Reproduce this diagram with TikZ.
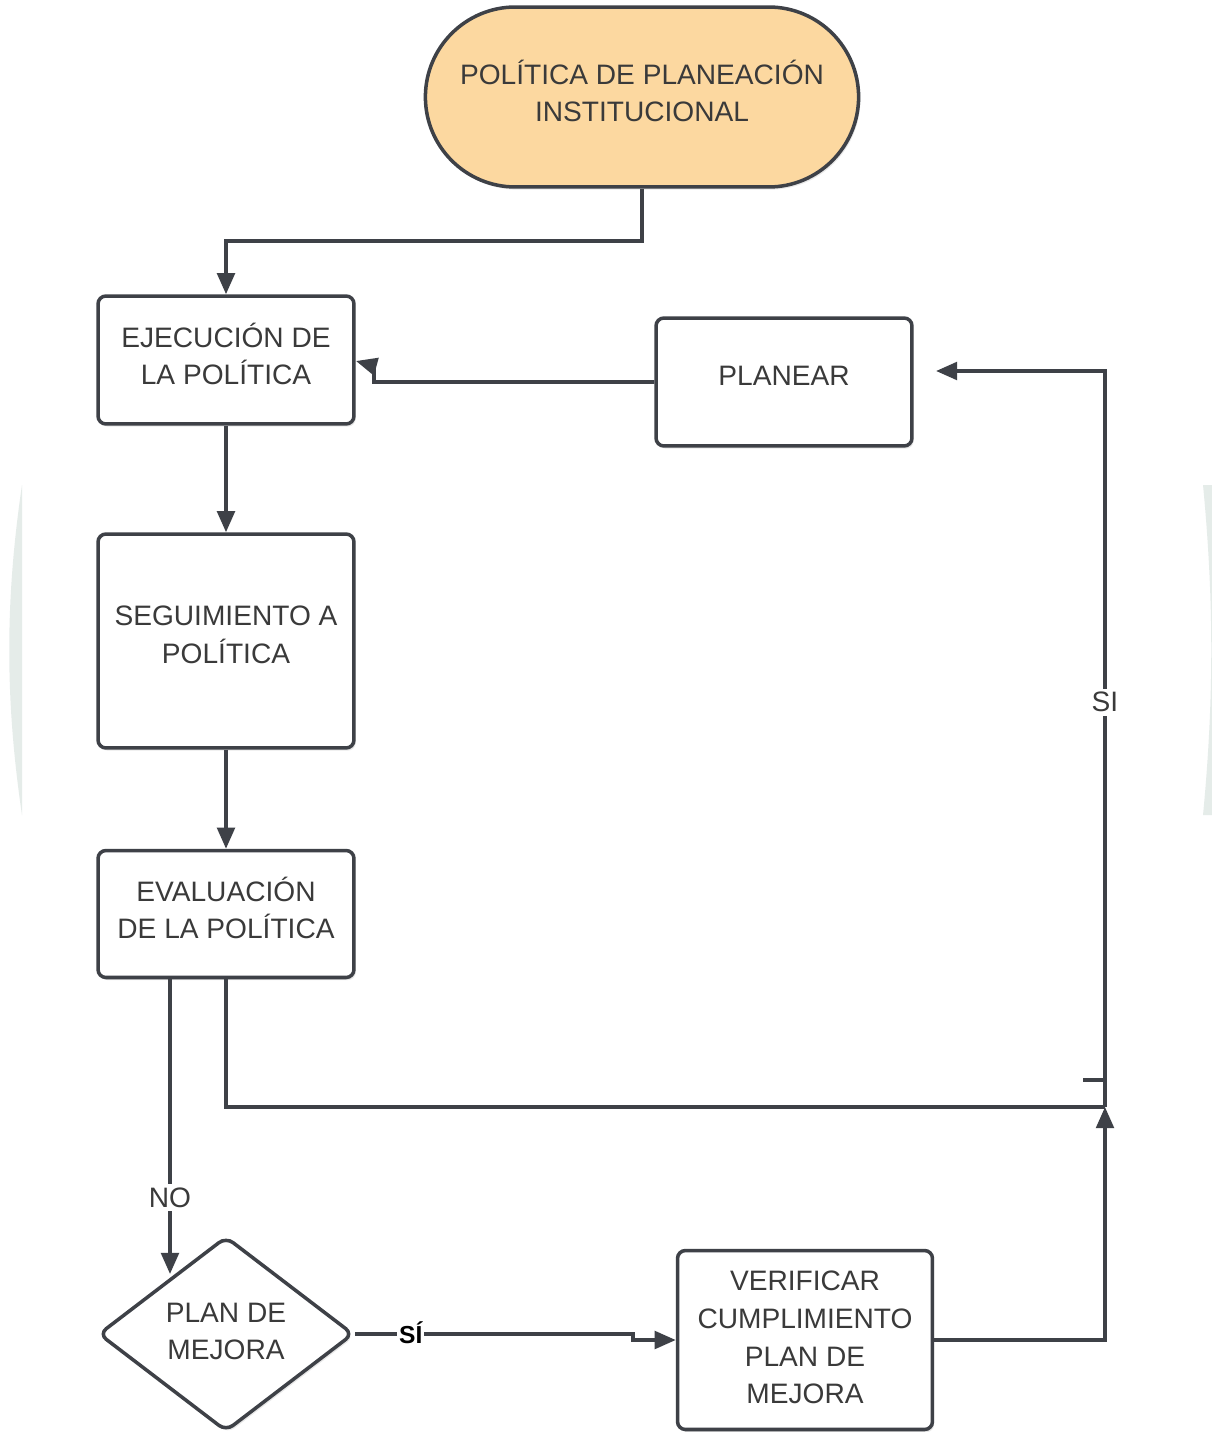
\documentclass[tikz,border=0pt]{standalone}
\usepackage{fontspec}
\setmainfont{Liberation Sans}
\usetikzlibrary{shapes.geometric,shapes.misc,arrows.meta,shadows}
\definecolor{lineC}{RGB}{62,65,71}
\definecolor{textC}{RGB}{58,58,58}
\definecolor{termC}{RGB}{252,216,160}
\definecolor{artC}{RGB}{205,218,212}
\begin{document}
\begin{tikzpicture}[x=0.02cm,y=-0.02cm,
  every node/.style={font=\fontsize{16}{21.5}\selectfont, text=textC},
  boxstyle/.style={draw=lineC, line width=2pt, rectangle, rounded corners=4.5pt, fill=white,
     align=center, inner sep=2pt, text depth=7pt,
     drop shadow={shadow xshift=1pt, shadow yshift=-1.5pt, opacity=0.18}},
  termstyle/.style={draw=lineC, line width=2pt, rounded rectangle, fill=termC, align=center,
     minimum width=8.9cm, minimum height=3.6cm, text depth=7pt,
     drop shadow={shadow xshift=1pt, shadow yshift=-1.5pt, opacity=0.18}},
  decstyle/.style={draw=lineC, line width=2pt, diamond, rounded corners=5pt, fill=white, align=center,
     minimum width=5.1cm, minimum height=3.9cm, inner sep=0pt, text depth=3pt,
     drop shadow={shadow xshift=1pt, shadow yshift=-1.5pt, opacity=0.18}},
  conn/.style={draw=lineC, line width=2pt},
  arr/.style={conn, -{Triangle[length=12pt,width=10pt]}},
  lbl/.style={fill=white, inner sep=2pt},
]
\useasboundingbox (0,0) rectangle (1212,1432);
\fill[white] (0,0) rectangle (1212,1432);

% faint edge artifacts
\fill[artC, opacity=0.5] (22,485) .. controls (5,600) and (5,700) .. (22,815) -- cycle;
\fill[artC, opacity=0.5] (1203,485) .. controls (1214,600) and (1214,700) .. (1203,815) -- (1212,815) -- (1212,485) -- cycle;

% nodes
\node[termstyle] (top) at (642,97) {POLÍTICA DE PLANEACIÓN\\INSTITUCIONAL};
\node[boxstyle, minimum width=5.12cm, minimum height=2.56cm] (ejec) at (226,360) {EJECUCIÓN DE\\LA POLÍTICA};
\node[boxstyle, minimum width=5.12cm, minimum height=2.56cm] (plan) at (784,382) {PLANEAR};
\node[boxstyle, minimum width=5.12cm, minimum height=4.28cm] (seg) at (226,641) {SEGUIMIENTO A\\POLÍTICA};
\node[boxstyle, minimum width=5.12cm, minimum height=2.54cm] (eval) at (226,914) {EVALUACIÓN\\DE LA POLÍTICA};
\node[decstyle] (mej) at (226,1334) {PLAN DE\\MEJORA};
\node[boxstyle, minimum width=5.1cm, minimum height=3.58cm, text depth=3pt] (ver) at (805,1340) {VERIFICAR\\CUMPLIMIENTO\\PLAN DE\\MEJORA};

% coordinates
\coordinate (j1) at (1105,1107);
\coordinate (stubA) at (1083,1080);
\coordinate (stubB) at (1105,1080);
\coordinate (pin) at (936,371);

% connectors
\draw[arr] (top.south) -- (642,241) -| (ejec.north);
\draw[arr] (ejec.south) -- (seg.north);
\draw[arr] (seg.south) -- (eval.north);
\draw[arr] (plan.west) -- (374,382) -- (374,366) -- (356,361);
\draw[arr] (eval.south -| 170,0) -- node[lbl, pos=0.74]{NO} (170,1274);
\draw[arr] (mej.east) -- node[lbl, pos=0.2, yshift=1pt, text=black, font=\fontsize{14}{16}\selectfont\bfseries, inner sep=1pt]{SÍ} (633,1334) -- (633,1340) -- (ver.west);
\draw[arr] (ver.east) -- (1105,1340) -- (j1);
\draw[conn] (eval.south) -- (226,1107) -- (j1);
\draw[arr] (j1) -- node[lbl, pos=0.55]{SI} (1105,371) -- (pin);
\draw[conn] (stubA) -- (stubB);
\end{tikzpicture}
\end{document}
